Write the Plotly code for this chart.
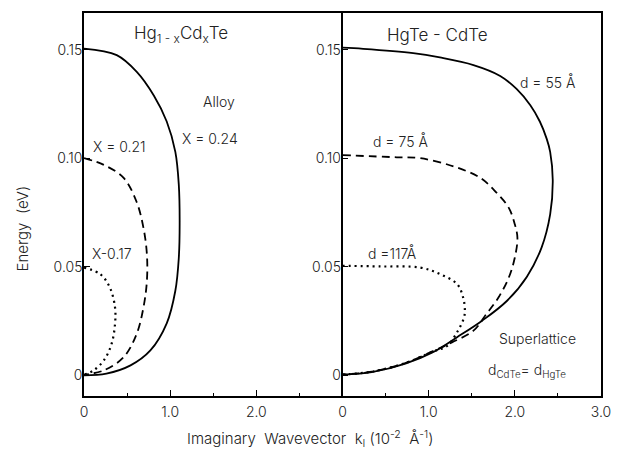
import plotly.graph_objects as go

# ---- data (k in 1e-2 1/Å, E in eV) ----
alloy_x024_k = [0, 0.38, 0.61, 0.81, 0.96, 1.06, 1.10, 1.11, 1.10, 1.06, 0.96, 0.77, 0.54, 0.26, 0]
alloy_x024_E = [0.1506, 0.1476, 0.140, 0.129, 0.117, 0.103, 0.088, 0.070, 0.054, 0.039, 0.024, 0.0115, 0.0046, 0.0008, 0.0]

alloy_x021_k = [0, 0.23, 0.46, 0.61, 0.69, 0.73, 0.73, 0.69, 0.61, 0.46, 0.23, 0]
alloy_x021_E = [0.1001, 0.097, 0.091, 0.080, 0.068, 0.0558, 0.0436, 0.0313, 0.019, 0.0084, 0.0023, 0.0003]

alloy_x017_k = [0, 0.19, 0.30, 0.36, 0.36, 0.32, 0.23, 0.11, 0]
alloy_x017_E = [0.0497, 0.0466, 0.0405, 0.0313, 0.0237, 0.0145, 0.0069, 0.0023, 0.0003]

sl_d55_k = [0, 0.24, 0.82, 1.13, 1.52, 1.83, 2.02, 2.18, 2.29, 2.37, 2.41, 2.44, 2.41, 2.31, 2.14, 1.91, 1.62, 1.33, 1.05, 0.73, 0.34, 0]
sl_d55_E = [0.151, 0.1505, 0.1485, 0.1465, 0.143, 0.138, 0.132, 0.1245, 0.117, 0.109, 0.103, 0.090, 0.0742, 0.0589, 0.0455, 0.0344, 0.0252, 0.0176, 0.0107, 0.0054, 0.0015, 0.0003]

sl_d75_k = [0, 0.63, 0.90, 1.29, 1.60, 1.79, 1.93, 2.00, 2.03, 2.00, 1.93, 1.81, 1.67, 1.52, 1.27, 1.05, 0.73, 0.34, 0]
sl_d75_E = [0.1015, 0.1005, 0.1001, 0.0963, 0.091, 0.0841, 0.0772, 0.0696, 0.0634, 0.0543, 0.0451, 0.0359, 0.0283, 0.0206, 0.0152, 0.0112, 0.0057, 0.0017, 0.0004]

sl_d117_k = [0, 0.44, 0.90, 1.13, 1.33, 1.40, 1.42, 1.41, 1.34, 1.21, 1.05, 0.73, 0.34, 0]
sl_d117_E = [0.0505, 0.0502, 0.0497, 0.0467, 0.0421, 0.0359, 0.0300, 0.0267, 0.0206, 0.0135, 0.0110, 0.0057, 0.0017, 0.0004]

x_left_ticks = [0, 1, 2]
x_left_labels = ["0", "1.0", "2.0"]
x_right_ticks = [0, 1, 2, 3]
x_right_labels = ["0", "1.0", "2.0", "3.0"]
y_ticks = [0, 0.05, 0.10, 0.15]
y_labels = ["0", "0.05", "0.10", "0.15"]

FONT = "Inter"
TXT = "#222"
NB = "\u00a0"

fig = go.Figure()

def add(k, E, xa, ya, dash, width):
    fig.add_trace(go.Scatter(x=k, y=E, xaxis=xa, yaxis=ya, mode="lines",
                             line=dict(color="black", width=width, dash=dash, shape="spline", smoothing=1.0),
                             showlegend=False, hoverinfo="skip"))

add(alloy_x024_k, alloy_x024_E, "x", "y", "solid", 1.8)
add(alloy_x021_k, alloy_x021_E, "x", "y", "8px,5px", 1.8)
add(alloy_x017_k, alloy_x017_E, "x", "y", "2px,4px", 2.2)
add(sl_d55_k, sl_d55_E, "x2", "y2", "solid", 1.8)
add(sl_d75_k, sl_d75_E, "x2", "y2", "8px,5px", 1.8)
add(sl_d117_k, sl_d117_E, "x2", "y2", "2px,4px", 2.2)

tickfont = dict(family=FONT, size=14, color=TXT, weight=300)
axis_common = dict(showline=True, linecolor="black", linewidth=1.5,
                   showgrid=False, zeroline=False, ticks="inside", ticklen=6,
                   tickcolor="black", tickwidth=1.2, tickfont=tickfont)
minor = dict(ticks="inside", ticklen=3, dtick=0.5, tick0=0, tickcolor="black", tickwidth=1.2)

# the page body adds an 8px offset; compensate so the plot area lands where the reference has it
fig.update_layout(
    width=616, height=441,
    margin=dict(l=76, r=23, t=3, b=53),
    paper_bgcolor="white", plot_bgcolor="white",
    xaxis=dict(domain=[0, 0.5], range=[0, 3], tickvals=x_left_ticks, ticktext=x_left_labels,
               minor=minor, anchor="y", mirror=True, ticklabelstandoff=2, **axis_common),
    xaxis2=dict(domain=[0.5, 1], range=[0, 3], tickvals=x_right_ticks, ticktext=x_right_labels,
                minor=minor, anchor="y2", mirror=True, ticklabelstandoff=2, **axis_common),
    yaxis=dict(range=[-0.0095, 0.167], tickvals=y_ticks, ticktext=y_labels, anchor="x",
               mirror=False, ticklabelstandoff=-3, **axis_common),
    yaxis2=dict(range=[-0.0095, 0.167], tickvals=y_ticks, ticktext=y_labels, anchor="x2",
                mirror=True, ticklabelstandoff=-3, **axis_common),
)

def ann(text, x, y, xref, yref, size=14, **kw):
    fig.add_annotation(text=text, x=x, y=y, xref=xref, yref=yref, showarrow=False,
                       xanchor="center", yanchor="middle",
                       font=dict(family=FONT, size=size, color=TXT, weight=300), **kw)

ann("Hg<sub>1 - x</sub>Cd<sub>x</sub>Te", 1.12, 0.157, "x", "y", size=17)
ann("Alloy", 1.57, 0.126, "x", "y")
ann("X = 0.24", 1.46, 0.109, "x", "y")
ann("X = 0.21", 0.41, 0.1055, "x", "y")
ann("X-0.17", 0.32, 0.0564, "x", "y")
ann("HgTe - CdTe", 1.10, 0.157, "x2", "y2", size=17)
ann("d = 55 Å", 2.38, 0.1353, "x2", "y2")
ann("d = 75 Å", 0.67, 0.1078, "x2", "y2")
ann("d =117Å", 0.575, 0.0564, "x2", "y2")
ann("Superlattice", 2.26, 0.017, "x2", "y2")
ann("d<sub>CdTe</sub>= d<sub>HgTe</sub>", 2.14, 0.0023, "x2", "y2")
ann("Energy" + NB * 2 + "(eV)", -0.119, 0.4385, "paper", "paper", size=15, textangle=-90)
ann("Imaginary" + NB * 2 + "Wavevector" + NB * 2 + "k<sub>I</sub>" + NB + "(10<sup>-2</sup>" + NB * 2 + "Å<sup>-1</sup>)",
    0.437, -0.112, "paper", "paper", size=15)

fig.write_html("out.html")
